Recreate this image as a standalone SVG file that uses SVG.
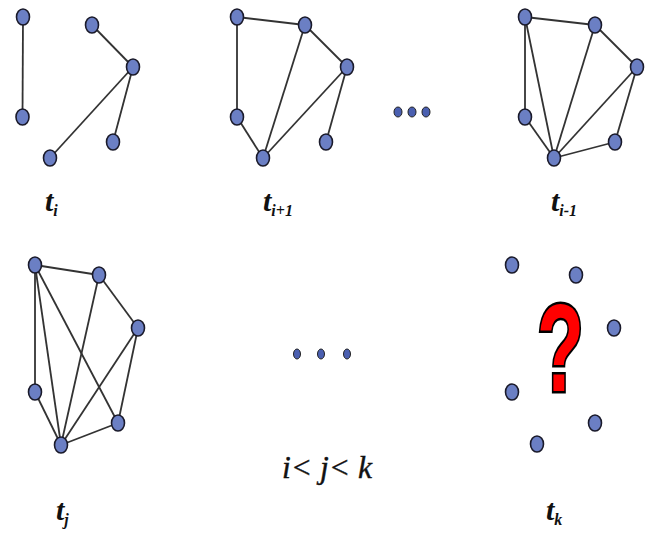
<svg xmlns="http://www.w3.org/2000/svg" width="650" height="538" viewBox="0 0 650 538">
<style>
.n{fill:#6b7fc4;stroke:#1a1a2a;stroke-width:1.6}
.e{stroke:#333;stroke-width:1.8;fill:none}
.t{font-family:"Liberation Serif",serif;font-style:italic;font-weight:bold;font-size:30px;fill:#111}
.s{font-family:"Liberation Serif",serif;font-style:italic;font-weight:bold;font-size:16px;fill:#111}
.d{fill:#4a5fb0;stroke:#222;stroke-width:1}
</style>
<rect width="650" height="538" fill="#fff"/>
<g id="connectors">
<line class="e" x1="23" y1="17" x2="22.5" y2="117"/>
<line class="e" x1="92" y1="25" x2="133" y2="67"/>
<line class="e" x1="133" y1="67" x2="50" y2="158"/>
<line class="e" x1="133" y1="67" x2="113" y2="142"/>
<line class="e" x1="237" y1="17" x2="305" y2="25"/>
<line class="e" x1="237" y1="17" x2="237" y2="117"/>
<line class="e" x1="305" y1="25" x2="347" y2="67"/>
<line class="e" x1="305" y1="25" x2="263" y2="158"/>
<line class="e" x1="347" y1="67" x2="263" y2="158"/>
<line class="e" x1="347" y1="67" x2="326" y2="142"/>
<line class="e" x1="237" y1="117" x2="263" y2="158"/>
<line class="e" x1="525" y1="17" x2="595" y2="25"/>
<line class="e" x1="525" y1="17" x2="525" y2="117"/>
<line class="e" x1="525" y1="17" x2="554" y2="158"/>
<line class="e" x1="595" y1="25" x2="637" y2="67"/>
<line class="e" x1="595" y1="25" x2="554" y2="158"/>
<line class="e" x1="637" y1="67" x2="554" y2="158"/>
<line class="e" x1="637" y1="67" x2="615" y2="142"/>
<line class="e" x1="525" y1="117" x2="554" y2="158"/>
<line class="e" x1="554" y1="158" x2="615" y2="142"/>
<line class="e" x1="35" y1="265" x2="99" y2="275"/>
<line class="e" x1="35" y1="265" x2="35" y2="392"/>
<line class="e" x1="35" y1="265" x2="61" y2="445"/>
<line class="e" x1="35" y1="265" x2="118" y2="423"/>
<line class="e" x1="99" y1="275" x2="138" y2="328"/>
<line class="e" x1="99" y1="275" x2="61" y2="445"/>
<line class="e" x1="138" y1="328" x2="61" y2="445"/>
<line class="e" x1="138" y1="328" x2="118" y2="423"/>
<line class="e" x1="35" y1="392" x2="61" y2="445"/>
<line class="e" x1="61" y1="445" x2="118" y2="423"/>
</g>
<g id="graph-ti">
<ellipse class="n" cx="23" cy="17" rx="6.5" ry="8"/>
<ellipse class="n" cx="22.5" cy="117" rx="6.5" ry="8"/>
<ellipse class="n" cx="92" cy="25" rx="6.5" ry="8"/>
<ellipse class="n" cx="133" cy="67" rx="6.5" ry="8"/>
<ellipse class="n" cx="113" cy="142" rx="6.5" ry="8"/>
<ellipse class="n" cx="50" cy="158" rx="6.5" ry="8"/>
<text class="t" x="45" y="211">t<tspan class="s" dy="5">i</tspan></text>
</g>
<g id="graph-ti1">
<ellipse class="n" cx="237" cy="17" rx="6.5" ry="8"/>
<ellipse class="n" cx="305" cy="25" rx="6.5" ry="8"/>
<ellipse class="n" cx="347" cy="67" rx="6.5" ry="8"/>
<ellipse class="n" cx="237" cy="117" rx="6.5" ry="8"/>
<ellipse class="n" cx="263" cy="158" rx="6.5" ry="8"/>
<ellipse class="n" cx="326" cy="142" rx="6.5" ry="8"/>
<text class="t" x="263" y="211">t<tspan class="s" dy="5">i+1</tspan></text>
</g>
<g id="dots-top">
<ellipse class="d" cx="398" cy="112" rx="4" ry="5"/>
<ellipse class="d" cx="412" cy="112" rx="4" ry="5"/>
<ellipse class="d" cx="426" cy="112" rx="4" ry="5"/>
</g>
<g id="graph-ti-1">
<ellipse class="n" cx="525" cy="17" rx="6.5" ry="8"/>
<ellipse class="n" cx="595" cy="25" rx="6.5" ry="8"/>
<ellipse class="n" cx="637" cy="67" rx="6.5" ry="8"/>
<ellipse class="n" cx="525" cy="117" rx="6.5" ry="8"/>
<ellipse class="n" cx="554" cy="158" rx="6.5" ry="8"/>
<ellipse class="n" cx="615" cy="142" rx="6.5" ry="8"/>
<text class="t" x="551" y="211">t<tspan class="s" dy="5">i-1</tspan></text>
</g>
<g id="graph-tj">
<ellipse class="n" cx="35" cy="265" rx="6.5" ry="8"/>
<ellipse class="n" cx="99" cy="275" rx="6.5" ry="8"/>
<ellipse class="n" cx="138" cy="328" rx="6.5" ry="8"/>
<ellipse class="n" cx="35" cy="392" rx="6.5" ry="8"/>
<ellipse class="n" cx="61" cy="445" rx="6.5" ry="8"/>
<ellipse class="n" cx="118" cy="423" rx="6.5" ry="8"/>
<text class="t" x="56" y="520">t<tspan class="s" dy="5">j</tspan></text>
</g>
<g id="middle">
<ellipse class="d" cx="297" cy="354" rx="3.5" ry="5"/>
<ellipse class="d" cx="321" cy="354" rx="3.5" ry="5"/>
<ellipse class="d" cx="347" cy="354" rx="3.5" ry="5"/>
<text x="282" y="478" textLength="90" lengthAdjust="spacingAndGlyphs" style="font-family:'Liberation Serif',serif;font-style:italic;font-size:32px;fill:#111;stroke:#111;stroke-width:0.4">i&lt; j&lt; k</text>
</g>
<g id="graph-tk">
<ellipse class="n" cx="512" cy="265" rx="6.5" ry="8"/>
<ellipse class="n" cx="576" cy="275" rx="6.5" ry="8"/>
<ellipse class="n" cx="614" cy="328" rx="6.5" ry="8"/>
<ellipse class="n" cx="512" cy="392" rx="6.5" ry="8"/>
<ellipse class="n" cx="537" cy="444" rx="6.5" ry="8"/>
<ellipse class="n" cx="595" cy="423" rx="6.5" ry="8"/>
<text transform="translate(537,391) scale(0.62,1)" x="0" y="0" style="font-family:'Liberation Sans',sans-serif;font-weight:bold;font-size:124px;fill:#f00;stroke:#000;stroke-width:5;paint-order:stroke">?</text>
<text class="t" x="546" y="520">t<tspan class="s" dy="5">k</tspan></text>
</g>
</svg>
